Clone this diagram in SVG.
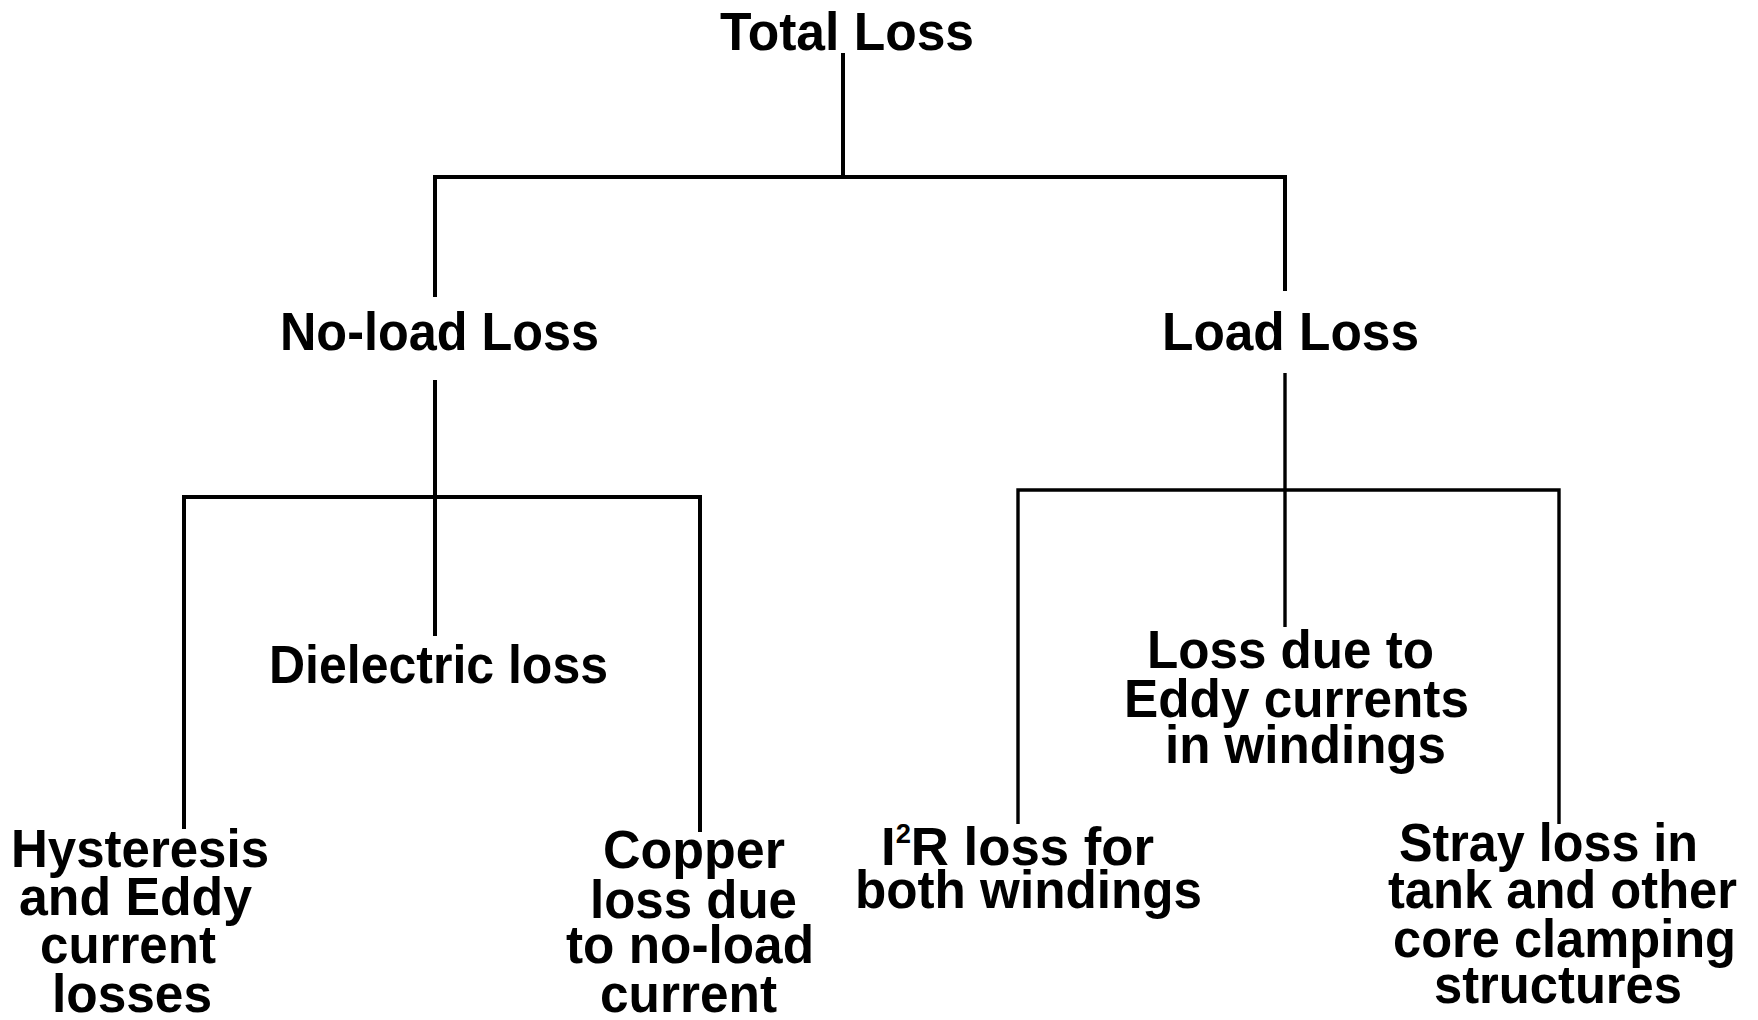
<svg xmlns="http://www.w3.org/2000/svg" width="1758" height="1020" viewBox="0 0 1758 1020">
<style>
.t{font-family:"Liberation Sans",Arial,sans-serif;font-size:54px;font-weight:bold;fill:#000}
.c{fill:none;stroke:#000;stroke-width:4;stroke-linejoin:miter;stroke-linecap:butt}
.c3{stroke-width:3.4}
</style>
<rect width="1758" height="1020" fill="#fff"/>
<g id="connectors">
<path class="c" d="M843,53 V177"/>
<path class="c" d="M435,297 V177 H1285 V291"/>
<path class="c" d="M435,380 V636"/>
<path class="c" d="M184,829 V497 H700 V832"/>
<path class="c c3" d="M1285,373 V627"/>
<path class="c c3" d="M1018,824 V490 H1559 V824"/>
</g>
<g id="total-loss"><text class="t" x="720" y="50" font-size="56" textLength="254" lengthAdjust="spacingAndGlyphs">Total Loss</text></g>
<g id="no-load-loss"><text class="t" x="280" y="350" textLength="319" lengthAdjust="spacingAndGlyphs">No-load Loss</text></g>
<g id="load-loss"><text class="t" x="1162" y="350" textLength="257" lengthAdjust="spacingAndGlyphs">Load Loss</text></g>
<g id="dielectric-loss"><text class="t" x="269" y="683" textLength="339" lengthAdjust="spacingAndGlyphs">Dielectric loss</text></g>
<g id="hysteresis">
<text class="t" x="11" y="867" textLength="258" lengthAdjust="spacingAndGlyphs">Hysteresis</text>
<text class="t" x="19" y="915" textLength="233" lengthAdjust="spacingAndGlyphs">and Eddy</text>
<text class="t" x="40" y="963" textLength="176" lengthAdjust="spacingAndGlyphs">current</text>
<text class="t" x="52" y="1012" textLength="160" lengthAdjust="spacingAndGlyphs">losses</text>
</g>
<g id="copper-loss">
<text class="t" x="603" y="868" textLength="182" lengthAdjust="spacingAndGlyphs">Copper</text>
<text class="t" x="590" y="918" textLength="207" lengthAdjust="spacingAndGlyphs">loss due</text>
<text class="t" x="566" y="963" textLength="248" lengthAdjust="spacingAndGlyphs">to no-load</text>
<text class="t" x="600" y="1012" textLength="177" lengthAdjust="spacingAndGlyphs">current</text>
</g>
<g id="eddy-windings">
<text class="t" x="1147" y="668" textLength="287" lengthAdjust="spacingAndGlyphs">Loss due to</text>
<text class="t" x="1124" y="717" textLength="345" lengthAdjust="spacingAndGlyphs">Eddy currents</text>
<text class="t" x="1165" y="763" textLength="281" lengthAdjust="spacingAndGlyphs">in windings</text>
</g>
<g id="i2r-loss">
<text class="t" x="881" y="865" textLength="273" lengthAdjust="spacingAndGlyphs">I<tspan font-size="28" dy="-22">2</tspan><tspan dy="22">R loss for</tspan></text>
<text class="t" x="855" y="908" textLength="347" lengthAdjust="spacingAndGlyphs">both windings</text>
</g>
<g id="stray-loss">
<text class="t" x="1399" y="861" textLength="299" lengthAdjust="spacingAndGlyphs">Stray loss in</text>
<text class="t" x="1388" y="908" textLength="349" lengthAdjust="spacingAndGlyphs">tank and other</text>
<text class="t" x="1393" y="957" textLength="343" lengthAdjust="spacingAndGlyphs">core clamping</text>
<text class="t" x="1434" y="1003" textLength="248" lengthAdjust="spacingAndGlyphs">structures</text>
</g>
</svg>
